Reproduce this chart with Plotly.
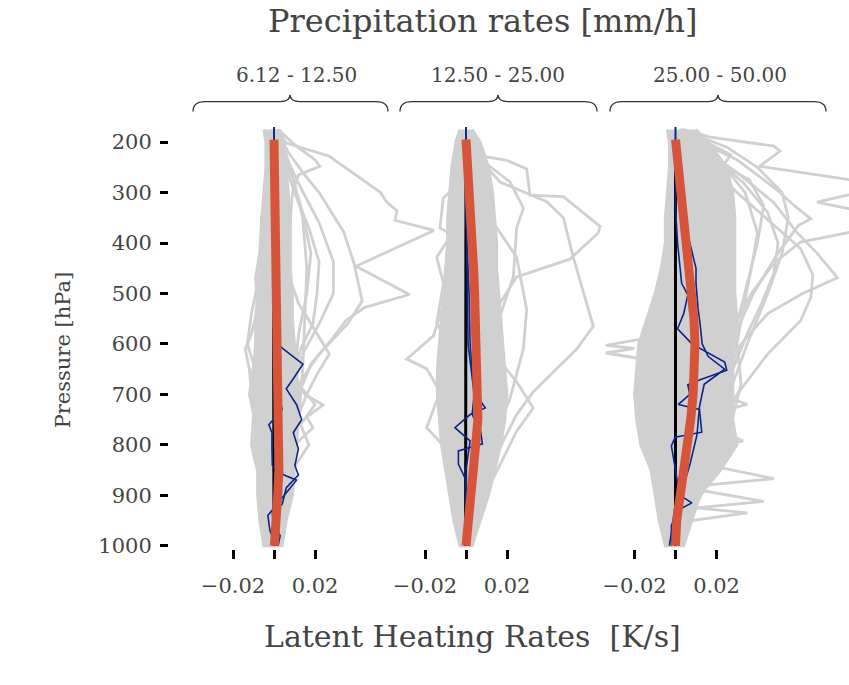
import plotly.graph_objects as go

# ---------------- data ----------------
PANEL_LABELS = ["6.12 - 12.50", "12.50 - 25.00", "25.00 - 50.00"]
X_TICKS = [-0.02, 0.0, 0.02]
X_TICK_TEXT = ["\u22120.02", "", "0.02"]
Y_TICKS = [200, 300, 400, 500, 600, 700, 800, 900, 1000]

# dense core of the grey profiles (envelope)
P_CORE = [175, 200, 250, 300, 350, 400, 450, 500, 550, 600, 650, 700, 750, 800, 850, 900, 950, 1000]
P1_CORE_LO = [-0.005, -0.004, -0.004, -0.005, -0.006, -0.006, -0.007, -0.008, -0.009, -0.009, -0.010, -0.010, -0.009, -0.009, -0.008, -0.008, -0.007, -0.005]
P1_CORE_HI = [0.003, 0.005, 0.006, 0.007, 0.008, 0.008, 0.008, 0.009, 0.009, 0.010, 0.011, 0.012, 0.012, 0.011, 0.010, 0.009, 0.006, 0.004]
P2_CORE_LO = [-0.003, -0.005, -0.007, -0.008, -0.009, -0.009, -0.010, -0.011, -0.012, -0.013, -0.014, -0.014, -0.013, -0.012, -0.010, -0.008, -0.006, -0.003]
P2_CORE_HI = [0.003, 0.007, 0.011, 0.013, 0.014, 0.015, 0.015, 0.016, 0.017, 0.018, 0.019, 0.020, 0.019, 0.017, 0.014, 0.011, 0.007, 0.003]
P3_CORE_LO = [-0.004, -0.003, -0.003, -0.004, -0.005, -0.005, -0.007, -0.010, -0.014, -0.018, -0.019, -0.020, -0.019, -0.017, -0.012, -0.010, -0.008, -0.005]
P3_CORE_HI = [0.010, 0.016, 0.025, 0.028, 0.029, 0.029, 0.029, 0.029, 0.030, 0.029, 0.028, 0.028, 0.028, 0.030, 0.022, 0.012, 0.008, 0.004]

# individual grey profiles (pressure levels, heating rates)
P1_GREY = [
    ([175, 202, 228, 248, 300, 319, 336, 355, 375, 446, 502, 528, 554, 587, 640, 700, 800, 900, 1000],
     [0.001, 0.006, 0.027, 0.034, 0.052, 0.055, 0.060, 0.059, 0.078, 0.040, 0.066, 0.044, 0.035, 0.029, 0.018, 0.012, 0.006, 0.002, 0.0]),
    ([175, 220, 260, 300, 378, 440, 515, 560, 620, 680, 760, 850, 1000],
     [0.001, 0.007, 0.014, 0.022, 0.034, 0.039, 0.043, 0.036, 0.022, 0.012, 0.007, 0.003, 0.0]),
    ([175, 230, 290, 360, 437, 500, 560, 620, 700, 800, 1000],
     [0.001, 0.006, 0.013, 0.022, 0.029, 0.029, 0.022, 0.014, 0.008, 0.004, 0.0]),
    ([175, 240, 300, 370, 437, 500, 560, 610, 700, 800, 1000],
     [0.001, 0.005, 0.010, 0.017, 0.022, 0.021, 0.019, 0.013, 0.007, 0.003, 0.0]),
    ([175, 205, 235, 248, 265, 300, 400, 500, 600, 1000],
     [0.002, 0.010, 0.020, 0.0224, 0.012, 0.009, 0.007, 0.005, 0.003, 0.0]),
    ([450, 520, 580, 620, 660, 700, 740, 800, 900, 1000],
     [0.006, 0.012, 0.021, 0.027, 0.021, 0.016, 0.012, 0.007, 0.003, 0.0]),
    ([600, 660, 700, 721, 745, 766, 800, 850, 900, 1000],
     [0.004, 0.008, 0.015, 0.024, 0.016, 0.019, 0.010, 0.006, 0.003, 0.0]),
    ([650, 690, 720, 760, 800, 850, 900, 950, 1000],
     [0.005, 0.014, 0.020, 0.013, 0.017, 0.009, 0.006, 0.003, 0.0]),
    ([175, 250, 350, 420, 470, 530, 580, 610, 650, 700, 760, 820, 880, 940, 1000],
     [-0.001, -0.003, -0.006, -0.007, -0.009, -0.008, -0.011, -0.014, -0.012, -0.011, -0.009, -0.010, -0.006, -0.004, -0.001]),
    ([300, 400, 480, 540, 600, 640, 700, 740, 800, 870, 930, 1000],
     [-0.002, -0.005, -0.008, -0.011, -0.013, -0.010, -0.012, -0.010, -0.011, -0.007, -0.005, -0.001]),
    ([175, 250, 350, 450, 550, 650, 750, 850, 950, 1000],
     [0.002, 0.008, 0.014, 0.016, 0.015, 0.014, 0.012, 0.008, 0.004, 0.0]),
    ([175, 215, 270, 340, 420, 500, 580, 660, 760, 880, 1000],
     [0.001, 0.004, 0.009, 0.014, 0.018, 0.016, 0.012, 0.010, 0.008, 0.004, 0.0]),
]
P2_GREY = [
    ([181, 227, 236, 253, 305, 308, 367, 380, 432, 467, 519, 610, 740, 870, 1000],
     [0.0003, 0.0068, 0.0198, 0.0296, 0.0312, 0.0475, 0.0654, 0.0645, 0.0507, 0.0247, 0.0166, 0.0117, 0.0068, 0.0020, 0.0]),
    ([180, 220, 279, 318, 350, 428, 565, 610, 695, 740, 805, 902, 1000],
     [0.0005, 0.0036, 0.0166, 0.0394, 0.0475, 0.0523, 0.0621, 0.054, 0.0328, 0.0247, 0.0166, 0.0049, 0.0003]),
    ([180, 227, 279, 331, 370, 467, 545, 643, 805, 1000],
     [0.0005, 0.0049, 0.0215, 0.028, 0.0247, 0.0231, 0.0166, 0.0117, 0.0036, 0.0]),
    ([500, 610, 675, 727, 773, 838, 935, 1000],
     [0.006, 0.0117, 0.0247, 0.0328, 0.0247, 0.0166, 0.0049, 0.0]),
    ([180, 240, 285, 311, 370, 383, 428, 480, 558, 610, 708, 870, 1000],
     [-0.001, -0.002, -0.0045, -0.0111, -0.0127, -0.007, -0.0143, -0.011, -0.0143, -0.0078, -0.007, -0.004, -0.0005]),
    ([300, 415, 512, 584, 630, 649, 695, 740, 870, 1000],
     [-0.002, -0.0037, -0.0102, -0.0159, -0.0289, -0.0192, -0.0127, -0.0078, -0.0045, -0.0004]),
    ([500, 610, 695, 766, 805, 909, 1000],
     [-0.003, -0.0045, -0.0127, -0.0192, -0.0102, -0.0045, -0.0004]),
    ([180, 253, 350, 428, 532, 610, 708, 805, 935, 1000],
     [0.001, 0.002, 0.0117, 0.0247, 0.0296, 0.028, 0.0215, 0.0117, 0.002, 0.0]),
]
P3_GREY = [
    ([175, 190, 208, 218, 248, 274, 290, 319, 345, 375, 398, 440, 500, 560, 650, 750, 850, 950, 1000],
     [0.004, 0.017, 0.048, 0.051, 0.041, 0.084, 0.10, 0.069, 0.10, 0.09, 0.061, 0.048, 0.037, 0.029, 0.021, 0.015, 0.010, 0.004, 0.0]),
    ([175, 210, 260, 320, 378, 420, 469, 500, 540, 600, 700, 800, 900, 1000],
     [0.003, 0.012, 0.030, 0.048, 0.059, 0.069, 0.079, 0.062, 0.045, 0.032, 0.020, 0.013, 0.007, 0.0]),
    ([175, 220, 300, 358, 411, 463, 508, 554, 620, 700, 800, 900, 1000],
     [0.002, 0.010, 0.030, 0.046, 0.061, 0.067, 0.066, 0.061, 0.045, 0.030, 0.018, 0.008, 0.0]),
    ([175, 200, 235, 293, 326, 352, 365, 420, 500, 600, 700, 800, 900, 1000],
     [0.002, 0.012, 0.030, 0.049, 0.058, 0.066, 0.060, 0.050, 0.038, 0.027, 0.020, 0.014, 0.008, 0.0]),
    ([175, 200, 225, 248, 274, 326, 400, 480, 560, 650, 750, 850, 950, 1000],
     [0.003, 0.015, 0.027, 0.023, 0.036, 0.043, 0.040, 0.035, 0.030, 0.025, 0.020, 0.012, 0.004, 0.0]),
    ([175, 220, 280, 340, 400, 460, 520, 580, 650, 750, 850, 950, 1000],
     [0.002, 0.015, 0.033, 0.045, 0.050, 0.048, 0.042, 0.035, 0.028, 0.020, 0.012, 0.005, 0.0]),
    ([175, 230, 300, 380, 450, 530, 600, 680, 760, 850, 950, 1000],
     [0.002, 0.020, 0.034, 0.040, 0.037, 0.033, 0.030, 0.032, 0.027, 0.018, 0.006, 0.0]),
    ([175, 210, 250, 300, 350, 420, 500, 600, 700, 800, 900, 1000],
     [0.003, 0.025, 0.040, 0.052, 0.055, 0.052, 0.045, 0.035, 0.026, 0.018, 0.009, 0.0]),
    ([650, 700, 720, 735, 780, 850, 1000],
     [0.016, 0.022, 0.035, 0.020, 0.018, 0.010, 0.0]),
    ([720, 770, 792, 805, 850, 1000],
     [0.016, 0.020, 0.033, 0.018, 0.012, 0.0]),
    ([780, 840, 867, 880, 920, 1000],
     [0.014, 0.016, 0.048, 0.015, 0.010, 0.0]),
    ([820, 890, 912, 925, 935, 950, 1000],
     [0.012, 0.012, 0.043, 0.010, 0.035, 0.008, 0.0]),
    ([540, 590, 603, 609, 618, 630, 700, 800, 900, 1000],
     [-0.012, -0.016, -0.034, -0.020, -0.034, -0.016, -0.015, -0.012, -0.007, -0.002]),
]

# two example profiles (dark blue)
P1_BLUE = [
    ([170, 300, 450, 600, 610, 640, 669, 689, 721, 750, 776, 808, 841, 860, 885, 918, 934, 954, 980, 1000],
     [0.0, 0.0005, 0.001, 0.0018, 0.0045, 0.0141, 0.0094, 0.006, 0.0111, 0.0135, 0.0094, 0.0119, 0.0102, 0.0119, 0.006, 0.004, -0.0008, -0.0005, 0.003, 0.002]),
    ([170, 300, 450, 600, 700, 730, 760, 776, 810, 841, 860, 870, 900, 940, 970, 1000],
     [0.0, 0.0, 0.0005, 0.001, 0.002, 0.004, -0.0025, -0.001, -0.001, -0.0008, 0.0049, 0.011, 0.005, -0.003, -0.002, 0.001]),
]
P2_BLUE = [
    ([170, 250, 350, 448, 500, 600, 650, 695, 727, 740, 766, 792, 850, 1000],
     [0.0, 0.0, 0.0, 0.001, 0.0015, 0.002, 0.003, 0.004, 0.0094, 0.002, -0.0054, 0.002, 0.0, 0.0]),
    ([170, 300, 450, 600, 700, 740, 770, 798, 812, 838, 870, 1000],
     [0.0, 0.0, 0.0005, 0.001, 0.004, 0.003, 0.007, 0.008, -0.0037, -0.0037, 0.0, 0.0]),
]
P3_BLUE = [
    ([170, 250, 330, 400, 480, 503, 540, 570, 600, 636, 652, 671, 681, 700, 720, 730, 775, 785, 802, 850, 900, 915, 930, 960, 1000],
     [0.0, 0.0, 0.0, 0.001, 0.003, 0.006, 0.004, 0.001, 0.008, 0.024, 0.025, 0.012, 0.006, 0.007, 0.0014, 0.0117, 0.0128, -0.0002, -0.002, 0.0, 0.002, 0.008, 0.001, -0.002, -0.002]),
    ([170, 250, 300, 350, 400, 450, 480, 530, 560, 600, 625, 650, 680, 724, 780, 838, 880, 922, 975, 1000],
     [0.0, 0.0, 0.001, 0.003, 0.007, 0.010, 0.010, 0.011, 0.012, 0.013, 0.016, 0.024, 0.014, 0.0117, 0.0105, 0.0071, 0.004, -0.0003, -0.002, -0.003]),
]

# median (black) and mean (red)
P_MEDIAN = [200, 300, 400, 500, 600, 700, 800, 900, 1000]
P1_MEDIAN = [0.0, -0.0002, -0.0002, -0.0002, -0.0002, -0.0002, -0.0002, -0.0002, 0.0]
P2_MEDIAN = [0.0, 0.0, 0.0, 0.0, 0.0, 0.0, 0.0, -0.0002, -0.0002]
P3_MEDIAN = [0.0, 0.0, 0.0, 0.0, 0.0, 0.0, 0.0, 0.0, 0.0]

P_MEAN = [195, 250, 300, 350, 400, 450, 500, 550, 600, 650, 700, 750, 800, 850, 900, 950, 1000]
P1_MEAN = [0.0, 0.0002, 0.0004, 0.0006, 0.0008, 0.001, 0.0012, 0.0014, 0.0017, 0.002, 0.0023, 0.0026, 0.0027, 0.0024, 0.0018, 0.001, 0.0002]
P2_MEAN = [0.0, 0.001, 0.0018, 0.0025, 0.0031, 0.0037, 0.0042, 0.0047, 0.0052, 0.0057, 0.006, 0.0058, 0.0047, 0.0033, 0.0018, 0.0006, 0.0]
P3_MEAN = [0.0, 0.0015, 0.0028, 0.004, 0.0054, 0.0067, 0.008, 0.009, 0.0095, 0.0093, 0.0086, 0.0074, 0.0057, 0.0038, 0.002, 0.0006, 0.0]

# ---------------- layout / style ----------------
W, H = 849, 685
FONT = "DejaVu Serif"
TXT = "#444444"
GREY = "#d0d0d0"
RED = "#d6553a"
BLUE = "#0b2688"

SCALE = 2050.0                       # px per K/s unit
ZERO_PX = [274, 466, 675.5]
DOM_PX = [(185, 445), (385, 640), (590, 849)]
Y_TOP_PX, Y_BOT_PX = 115, 556
Y_200_PX, Y_1000_PX = 144, 553
PPX = (Y_1000_PX - Y_200_PX) / 800.0


def fx(px):
    return px / W


def fy(py):
    return 1 - py / H


panels = [
    (P1_CORE_LO, P1_CORE_HI, P1_GREY, P1_BLUE, P1_MEDIAN, P1_MEAN),
    (P2_CORE_LO, P2_CORE_HI, P2_GREY, P2_BLUE, P2_MEDIAN, P2_MEAN),
    (P3_CORE_LO, P3_CORE_HI, P3_GREY, P3_BLUE, P3_MEDIAN, P3_MEAN),
]

fig = go.Figure()
for i, (lo, hi, greys, blues, med, mean) in enumerate(panels):
    xa = "x" if i == 0 else f"x{i + 1}"
    fig.add_trace(go.Scatter(x=lo + hi[::-1], y=P_CORE + P_CORE[::-1], mode="lines",
                             fill="toself", fillcolor=GREY,
                             line=dict(color=GREY, width=2.8),
                             xaxis=xa, yaxis="y", hoverinfo="skip"))
    for p, v in greys:
        fig.add_trace(go.Scatter(x=v, y=p, mode="lines", line=dict(color=GREY, width=2.8),
                                 xaxis=xa, yaxis="y", hoverinfo="skip"))
    fig.add_trace(go.Scatter(x=med, y=P_MEDIAN, mode="lines", line=dict(color="black", width=3),
                             xaxis=xa, yaxis="y"))
    for p, v in blues:
        fig.add_trace(go.Scatter(x=v, y=p, mode="lines", line=dict(color=BLUE, width=1.6),
                                 xaxis=xa, yaxis="y"))
    fig.add_trace(go.Scatter(x=mean, y=P_MEAN, mode="lines", line=dict(color=RED, width=9),
                             xaxis=xa, yaxis="y"))

tickfont = dict(family=FONT, size=21, color=TXT)
layout_axes = {}
for i in range(3):
    l, r = DOM_PX[i]
    z = ZERO_PX[i]
    name = "xaxis" if i == 0 else f"xaxis{i + 1}"
    layout_axes[name] = dict(
        domain=[fx(l), fx(r)], range=[(l - z) / SCALE, (r - z) / SCALE],
        anchor="y", tickmode="array", tickvals=X_TICKS, ticktext=X_TICK_TEXT,
        ticks="outside", ticklen=9, tickwidth=3, tickcolor="black",
        showgrid=False, zeroline=False, showline=False, tickfont=tickfont,
        ticklabelstandoff=9,
    )

y_lo = 1000 + (Y_BOT_PX - Y_1000_PX) / PPX
y_hi = 200 - (Y_200_PX - Y_TOP_PX) / PPX
layout_axes["yaxis"] = dict(
    domain=[fy(Y_BOT_PX), fy(Y_TOP_PX)], range=[y_lo, y_hi],
    anchor="free", position=fx(168), tickmode="array", tickvals=Y_TICKS,
    ticks="outside", ticklen=8, tickwidth=3, tickcolor="black",
    showgrid=False, zeroline=False, showline=False, tickfont=tickfont,
    ticklabelstandoff=4,
)

fig.update_layout(width=W, height=H, autosize=False, margin=dict(l=0, r=0, t=0, b=0),
                  paper_bgcolor="white", plot_bgcolor="rgba(0,0,0,0)",
                  showlegend=False, **layout_axes)

# braces above the panels
BRACES = [(193, 388, 290), (400, 597, 498), (610, 826, 718)]
yb, ym, yt = 113, 103, 96
for x0, x1, xc in BRACES:
    path = (f"M {fx(x0)},{fy(yb)} Q {fx(x0)},{fy(ym)} {fx(x0 + 12)},{fy(ym)} "
            f"L {fx(xc - 10)},{fy(ym)} Q {fx(xc)},{fy(ym)} {fx(xc)},{fy(yt)} "
            f"Q {fx(xc)},{fy(ym)} {fx(xc + 10)},{fy(ym)} "
            f"L {fx(x1 - 12)},{fy(ym)} Q {fx(x1)},{fy(ym)} {fx(x1)},{fy(yb)}")
    fig.add_shape(type="path", path=path, xref="paper", yref="paper",
                  line=dict(color="#333333", width=1.3))

ann = []
ann.append(dict(text="Precipitation rates [mm/h]", x=fx(483), y=fy(21), xref="paper", yref="paper",
                showarrow=False, xanchor="center", yanchor="middle",
                font=dict(family=FONT, size=32, color=TXT)))
for lbl, xc in zip(PANEL_LABELS, [296, 498, 720]):
    ann.append(dict(text=lbl, x=fx(xc), y=fy(76), xref="paper", yref="paper",
                    showarrow=False, xanchor="center", yanchor="middle",
                    font=dict(family=FONT, size=20, color=TXT)))
ann.append(dict(text="Latent Heating Rates\u00a0\u00a0[K/s]", x=fx(473), y=fy(645), xref="paper", yref="paper",
                showarrow=False, xanchor="center", yanchor="middle",
                font=dict(family=FONT, size=30, color=TXT)))
ann.append(dict(text="Pressure [hPa]", x=fx(63), y=fy(355), xref="paper", yref="paper",
                showarrow=False, xanchor="center", yanchor="middle", textangle=-90,
                font=dict(family=FONT, size=21, color=TXT)))
fig.update_layout(annotations=ann)

PAGE_JS = (
    "var de=document.documentElement, b=document.body;"
    "de.style.margin='0'; de.style.padding='0'; de.style.overflow='hidden';"
    "de.style.width='849px'; de.style.height='685px';"
    "b.style.margin='0'; b.style.padding='0'; b.style.overflow='hidden';"
    "b.style.width='849px'; b.style.height='685px';"
)
fig.write_html("out.html",
               config={"displayModeBar": False, "responsive": False},
               post_script=PAGE_JS)
